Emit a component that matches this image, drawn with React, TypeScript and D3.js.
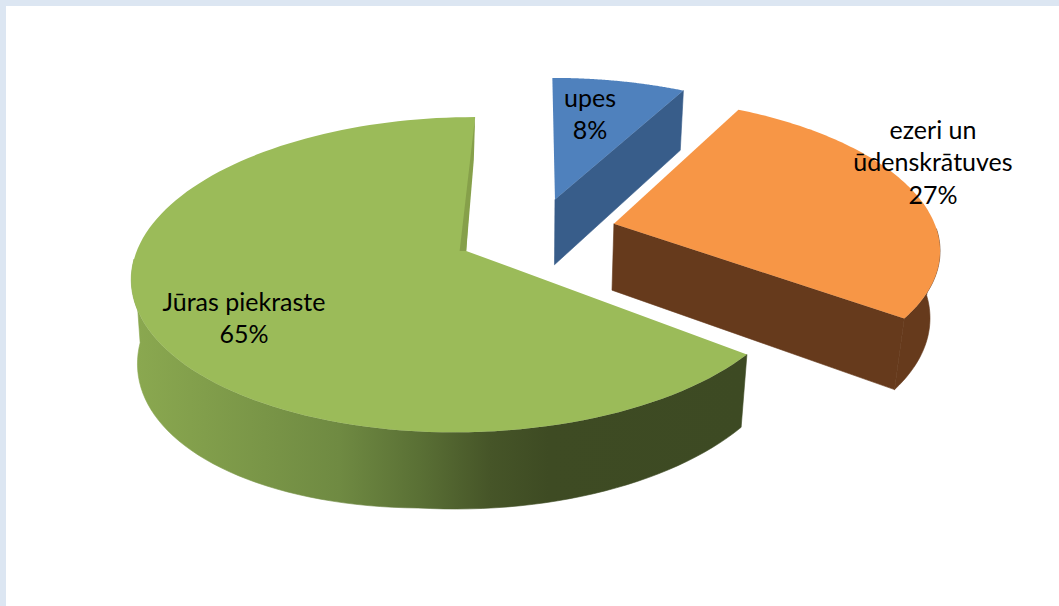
import * as d3 from "d3";
import React, { useEffect, useRef } from "react";

const categories = ["upes", "ezeri un ūdenskrātuves", "Jūras piekraste"];
const shares = [7.8, 27.3, 64.9];
const topColors = ["#4f81bd", "#f79646", "#9bbb59"];
const wallColors = ["#385d8a", "#663a1c", "url(#greenWall)"];
const labelLines = [["upes", "8%"], ["ezeri un", "ūdenskrātuves", "27%"], ["Jūras piekraste", "65%"]];

const labelX = [590, 933, 244];
const labelY = [98, 130, 302];

// hand fitted camera for the tilted pie
const cam = { vx: 534, y0: 234, A: 149, B: 324, k: 0.148, depth: 67 };
const explode = 0.235;
const sliceNudge = [
  [0.01, 0.012],
  [0.02, 0.018],
  [0.004, -0.006],
];
const startTrim = [0, 0, (1.2 * Math.PI) / 180];

const project = (X: number, Y: number, Z: number): [number, number] => {
  const w = 1 + cam.k * Y;
  const bulge = 1 + 0.25 * Math.max(0, -X - 0.3);
  const shrink = X > 0 ? 0.025 : 0.015;
  return [
    cam.vx + (cam.B * X) / (w + shrink * Z),
    cam.y0 + (-cam.A * Y) / w + (cam.depth * bulge * Z) / Math.pow(w, 0.75),
  ];
};

const App: React.FC = () => {
  const svgRef = useRef<SVGSVGElement>(null);

  useEffect(() => {
    document.body.style.margin = "0";
    const svg = d3.select(svgRef.current);
    svg.selectAll("*").remove();

    svg.append("rect").attr("width", 1059).attr("height", 606).attr("fill", "#dce6f2");
    svg.append("rect").attr("x", 6).attr("y", 6).attr("width", 1053).attr("height", 600).attr("fill", "#fff");

    const grad = svg
      .append("defs")
      .append("linearGradient")
      .attr("id", "greenWall")
      .attr("gradientUnits", "userSpaceOnUse")
      .attr("x1", 130)
      .attr("x2", 745)
      .attr("y1", 0)
      .attr("y2", 0);
    [
      [0, "#8ba950"],
      [0.34, "#6f8a42"],
      [0.47, "#5a7035"],
      [0.585, "#465528"],
      [0.68, "#3e4b23"],
      [1, "#3d4a23"],
    ].forEach(([o, c]) => grad.append("stop").attr("offset", o as number).attr("stop-color", c as string));

    const pie = d3
      .pie<number>()
      .sort(null)
      .startAngle(0)
      .endAngle(2 * Math.PI);
    const arcs = pie(shares);
    const line = d3.line();

    arcs.forEach((a, i) => {
      const mid = (a.startAngle + a.endAngle) / 2;
      const ox = explode * Math.sin(mid) + sliceNudge[i][0];
      const oy = explode * Math.cos(mid) + sliceNudge[i][1];
      const at = (r: number, t: number, z: number) => project(ox + r * Math.sin(t), oy + r * Math.cos(t), z);
      const from = a.startAngle + startTrim[i];
      const angles = d3.range(0, 121).map((s) => from + ((a.endAngle - from) * s) / 120);
      const g = svg.append("g");

      // walls first, the top face covers whatever is hidden. only the near part of the rim shows
      const rim = angles.filter((t) => Math.cos(t) < -0.02);
      if (rim.length > 1) {
        const wall = [...rim.map((t) => at(1, t, 0)), ...rim.slice().reverse().map((t) => at(1, t, 1))];
        g.append("path")
          .attr("d", line(wall)! + "Z")
          .attr("fill", wallColors[i])
          .attr("stroke", wallColors[i])
          .attr("stroke-width", 0.6);
      }
      if (i !== 2) {
        const t = a.endAngle;
        const face = [at(0, t, 0), at(1, t, 0), at(1, t, 1), at(0, t, 1)];
        g.append("path")
          .attr("d", line(face)! + "Z")
          .attr("fill", wallColors[i])
          .attr("stroke", wallColors[i])
          .attr("stroke-width", 0.6);
      }

      const top = [at(0, 0, 0), ...angles.map((t) => at(1, t, 0))];
      g.append("path").attr("d", line(top)! + "Z").attr("fill", topColors[i]);

      // thin darker sliver along the far edge of the big slice
      if (i === 2) {
        const e = a.endAngle;
        const sliver = [at(1, e, 0), at(0.65, e + 0.008, 0), at(0, 0, 0), at(0.02, e - Math.PI / 2, 0)];
        g.append("path").attr("d", line(sliver)! + "Z").attr("fill", "#86a04a");
      }
    });

    labelLines.forEach((lines, i) => {
      const t = svg
        .append("text")
        .attr("text-anchor", "middle")
        .attr("font-family", "Lato")
        .attr("font-size", 25)
        .attr("fill", "#000")
        .attr("aria-label", categories[i]);
      lines.forEach((l, j) => {
        t.append("tspan")
          .attr("x", labelX[i])
          .attr("y", labelY[i] + j * 32.5)
          .attr("dy", "0.35em")
          .text(l);
      });
    });
  }, []);

  return <svg ref={svgRef} width={1059} height={606} style={{ display: "block" }}></svg>;
};

export default App;
